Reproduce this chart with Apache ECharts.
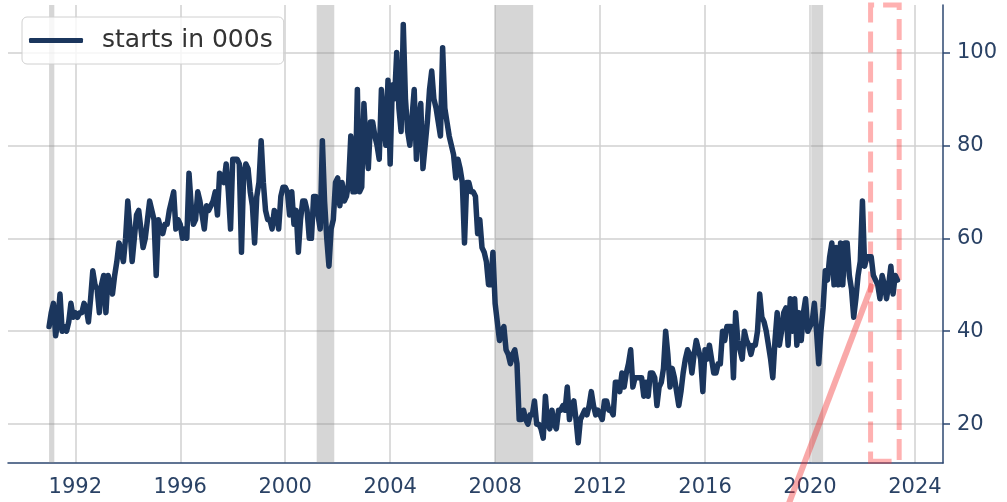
<!DOCTYPE html>
<html><head><meta charset="utf-8">
<script src="https://cdn.jsdelivr.net/npm/echarts@6/dist/echarts.min.js"></script>
<style>html,body{margin:0;padding:0;background:#fff}#c{width:1007px;height:502px}</style>
</head><body><div id="c"></div>
<script>
// Monthly housing starts (thousands), first value = January 1991
const startYear = 1991;
const starts1990s = [
  41, 44, 46, 39, 42, 48, 40, 41, 40, 42, 46, 43, // 1991
  44, 43, 44, 44, 46, 45, 42, 47, 53, 50, 49, 44, // 1992
  50, 52, 44, 52, 50, 48, 52, 55, 59, 57, 55, 60, // 1993
  68, 62, 55, 60, 65, 66, 62, 58, 60, 64, 68, 66, // 1994
  64, 52, 64, 62, 61, 63, 63, 66, 68, 70, 62, 64, // 1995
  63, 60, 62, 60, 74, 67, 63, 64, 70, 68, 65, 62, // 1996
  67, 66, 67, 68, 70, 65, 74, 73, 72, 76, 70, 62, // 1997
  77, 77, 77, 76, 57, 74, 76, 75, 70, 67, 59, 69, // 1998
  72, 81, 72, 66, 64, 64, 62, 66, 65, 62, 69, 71  // 1999
];
const starts2000s = [
  71, 70, 65, 70, 63, 66, 57, 64, 68, 68, 66, 60, // 2000
  60, 69, 69, 65, 62, 81, 68, 60, 54, 62, 64, 72, // 2001
  73, 67, 72, 68, 69, 72, 82, 70, 70, 92, 70, 71, // 2002
  89, 80, 75, 85, 85, 82, 80, 77, 92, 85, 80, 94, // 2003
  76, 93, 90, 100, 88, 83, 106, 90, 83, 80, 86, 92, // 2004
  77, 85, 89, 75, 80, 85, 92, 96, 90, 88, 85, 82, // 2005
  101, 88, 85, 82, 80, 78, 73, 77, 75, 72, 59, 72, // 2006
  72, 70, 70, 69, 61, 64, 58, 57, 55, 50, 50, 57, // 2007
  46, 42, 38, 40, 41, 36, 35, 33, 35, 36, 33, 21, // 2008
  21, 23, 21, 20, 22, 22, 25, 20, 20, 19, 17, 26  // 2009
];
const starts2010s = [
  20, 19, 23, 20, 19, 23, 23, 24, 23, 28, 21, 24, // 2010
  25, 21, 16, 21, 22, 23, 22, 24, 27, 24, 22, 23, // 2011
  22, 21, 25, 25, 23, 23, 22, 29, 29, 27, 31, 28, // 2012
  31, 33, 36, 28, 30, 30, 30, 30, 26, 29, 26, 31, // 2013
  31, 30, 24, 28, 29, 32, 40, 35, 28, 32, 30, 27, // 2014
  24, 27, 31, 34, 36, 35, 31, 35, 38, 36, 34, 27, // 2015
  36, 34, 37, 34, 31, 31, 33, 33, 40, 38, 41, 41, // 2016
  41, 30, 44, 38, 36, 34, 40, 38, 37, 35, 37, 37, // 2017
  40, 48, 43, 42, 40, 37, 34, 30, 38, 44, 37, 40, // 2018
  44, 45, 37, 47, 40, 47, 37, 44, 38, 44, 47, 40  // 2019
];
const starts2020s = [
  41, 42, 46, 40, 33, 40, 45, 53, 51, 56, 59, 50, // 2020
  58, 50, 59, 50, 59, 59, 52, 49, 43, 47, 52, 55, // 2021
  68, 54, 56, 56, 56, 52, 51, 50, 47, 52, 50, 47, // 2022
  50, 54, 48, 52, 51                              // 2023
];
const seriesName = 'starts in 000s';
const xTicks = [1992, 1996, 2000, 2004, 2008, 2012, 2016, 2020, 2024];
const yTicks = [20, 40, 60, 80, 100];
const recessions = [[1991.0, 1991.2], [2001.2, 2001.87], [2008.0, 2009.45], [2020.05, 2020.5]];
const highlightX = [2022.31, 2023.40];
const highlightY = [12.0, 110.2];
const trendLine = [[2019.0, 0], [2022.38, 50.2]];
const xRange = [1989.435, 2025.07];
const yRange = [11.64, 110.2];

const starts = [].concat(starts1990s, starts2000s, starts2010s, starts2020s);
const seriesData = starts.map((v, i) => [startYear + i / 12, v]);

const navy = '#1b365d';
const axisColor = '#2c4770';
const labelColor = '#2a4265';
const font = 'DejaVu Sans';

const chart = echarts.init(document.getElementById('c'), null, {renderer: 'canvas'});
chart.setOption({
  animation: false,
  grid: {left: 8, right: 64, top: 5, bottom: 39, containLabel: false},
  legend: {
    data: [{name: seriesName, icon: 'roundRect'}],
    left: 22, top: 17,
    itemWidth: 54, itemHeight: 5,
    padding: [10, 11, 10, 7],
    backgroundColor: 'rgba(255,255,255,0.8)',
    borderColor: '#d0d0d0', borderWidth: 1, borderRadius: 5,
    textStyle: {fontSize: 25, color: '#333', fontFamily: font, padding: [0, 0, 0, 14], lineHeight: 27}
  },
  xAxis: {
    type: 'value', min: xRange[0], max: xRange[1],
    axisLine: {show: true, onZero: false, lineStyle: {color: axisColor, width: 1.5}},
    axisTick: {show: false, customValues: xTicks},
    axisLabel: {customValues: xTicks, color: labelColor, fontSize: 21, fontFamily: font, margin: 14,
      formatter: v => String(Math.round(v))},
    splitLine: {show: true, lineStyle: {color: '#d0d0d0', width: 1.5}}
  },
  yAxis: {
    type: 'value', position: 'right', min: yRange[0], max: yRange[1],
    axisLine: {show: true, onZero: false, lineStyle: {color: axisColor, width: 1.5}},
    axisTick: {show: true, length: 7, customValues: yTicks, lineStyle: {color: axisColor, width: 1.5}},
    axisLabel: {customValues: yTicks, color: labelColor, fontSize: 21, fontFamily: font, margin: 14,
      formatter: v => String(Math.round(v))},
    splitLine: {show: true, lineStyle: {color: '#d0d0d0', width: 1.5}}
  },
  series: [
    {
      type: 'line', data: [], silent: true, z: 1,
      markArea: {silent: true, itemStyle: {color: 'rgba(128,128,128,0.32)'},
        data: recessions.map(r => [{xAxis: r[0]}, {xAxis: r[1]}])}
    },
    {
      type: 'line', name: seriesName, data: seriesData, symbol: 'none', showSymbol: false, z: 3,
      lineStyle: {color: navy, width: 5.5, cap: 'round', join: 'round'},
      itemStyle: {color: navy}
    },
    {
      type: 'line', data: trendLine, symbol: 'none', clip: false, silent: true, z: 4,
      lineStyle: {color: 'rgba(240,40,40,0.4)', width: 6}
    },
    {
      type: 'line', data: [], clip: false, silent: true, z: 5,
      markArea: {silent: true,
        itemStyle: {color: 'rgba(0,0,0,0)', borderColor: 'rgba(255,60,60,0.4)', borderWidth: 5, borderType: [21, 9]},
        data: [[{xAxis: highlightX[0], yAxis: highlightY[0]}, {xAxis: highlightX[1], yAxis: highlightY[1]}]]}
    }
  ]
});
</script></body></html>
